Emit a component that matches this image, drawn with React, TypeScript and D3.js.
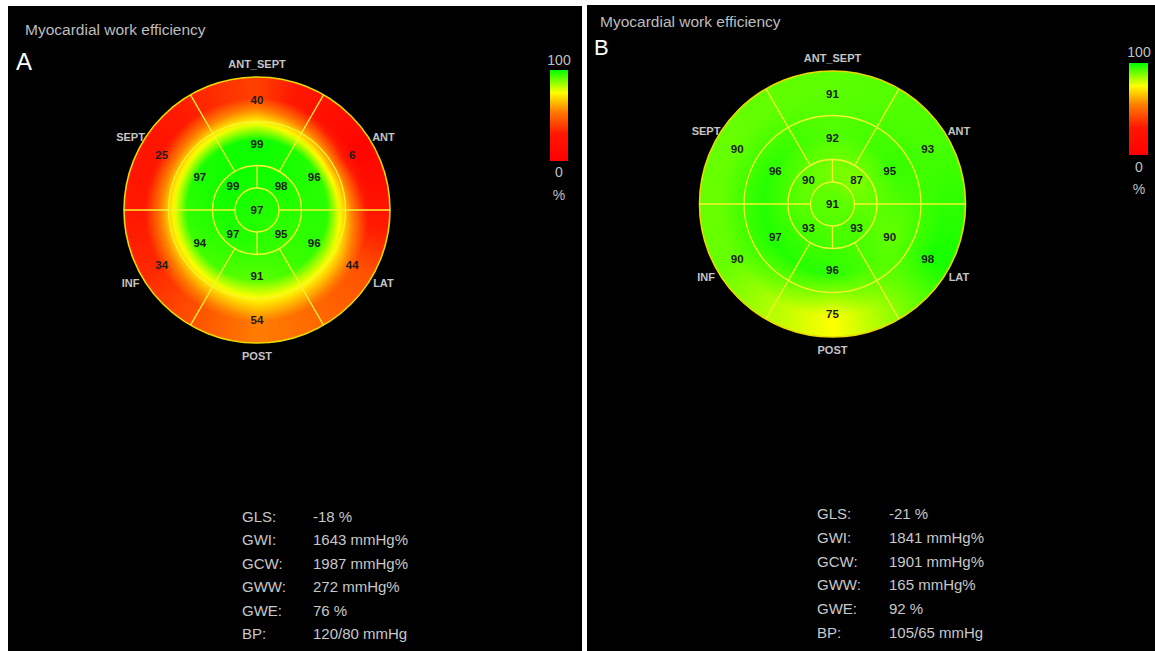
import React from "react";
import * as d3 from "d3";

// ---------- data ----------
const segmentNames = ["ANT_SEPT", "ANT", "LAT", "POST", "INF", "SEPT"];
const basalA = [40, 6, 44, 54, 34, 25];
const midA = [99, 96, 96, 91, 94, 97];
const apicalA = [98, 95, 97, 99];
const apexA = 97;
const basalB = [91, 93, 98, 75, 90, 90];
const midB = [92, 95, 90, 96, 97, 96];
const apicalB = [87, 93, 93, 90];
const apexB = 91;
const statLabels = ["GLS:", "GWI:", "GCW:", "GWW:", "GWE:", "BP:"];
const statsA = ["-18 %", "1643 mmHg%", "1987 mmHg%", "272 mmHg%", "76 %", "120/80 mmHg"];
const statsB = ["-21 %", "1841 mmHg%", "1901 mmHg%", "165 mmHg%", "92 %", "105/65 mmHg"];
const colorStops = [0, 30, 55, 75, 100];
const colorRange = ["#ff0000", "#ff1800", "#ff8000", "#ffff00", "#00ff00"];
const barTicks = ["100", "0", "%"];
const chartTitle = "Myocardial work efficiency";

const color = d3
  .scaleLinear<string>()
  .domain(colorStops)
  .range(colorRange)
  .interpolate(d3.interpolateRgb)
  .clamp(true);

const FONT = "'Liberation Sans', Arial, sans-serif";

// ring radii (apex, apical, mid, basal outer)
const R_APEX = 22;
const R_APICAL = 44.5;
const R_MID = 88.5;
const R_BASAL = 133;
// radius where each ring's value sits (for interpolation)
const rKnots = [0, 33, 70, 112];

function angInterp(vals: number[], offsetDeg: number, thetaDeg: number) {
  const n = vals.length;
  const step = 360 / n;
  const t = ((((thetaDeg - offsetDeg) % 360) + 360) % 360) / step;
  const i0 = Math.floor(t) % n;
  const i1 = (i0 + 1) % n;
  const f = t - Math.floor(t);
  return vals[i0] * (1 - f) + vals[i1] * f;
}

type PanelCfg = {
  id: string;
  letter: string;
  basal: number[];
  mid: number[];
  apical: number[];
  apex: number;
  stats: string[];
  bg: [number, number, number, number];
  cx: number;
  cy: number;
  title: [number, number];
  letterPos: [number, number, number];
  bar: [number, number, number, number];
  barLabelX: number;
  barLabelY: [number, number, number];
  statX: [number, number];
  statY0: number;
  statStep: number;
};

const panels: PanelCfg[] = [
  {
    id: "A",
    letter: "A",
    basal: basalA,
    mid: midA,
    apical: apicalA,
    apex: apexA,
    stats: statsA,
    bg: [8, 6, 574, 645],
    cx: 257,
    cy: 210,
    title: [25, 35],
    letterPos: [16, 70, 24],
    bar: [550, 70, 18, 91],
    barLabelX: 559,
    barLabelY: [65, 177, 200],
    statX: [242, 313],
    statY0: 522,
    statStep: 23.4,
  },
  {
    id: "B",
    letter: "B",
    basal: basalB,
    mid: midB,
    apical: apicalB,
    apex: apexB,
    stats: statsB,
    bg: [587, 5, 568, 646],
    cx: 832.5,
    cy: 204,
    title: [600, 27],
    letterPos: [594, 55, 22],
    bar: [1129, 63, 19, 92],
    barLabelX: 1139,
    barLabelY: [57, 172, 194],
    statX: [817, 889],
    statY0: 519,
    statStep: 23.8,
  },
];

function Bullseye({ p }: { p: PanelCfg }) {
  const rad = Math.PI / 180;
  const wedgeStep = 2;
  const thetas = d3.range(0, 360, wedgeStep);
  const rSamples = d3.range(0, R_BASAL + 0.1, 3.5).concat([R_BASAL]);
  const radial = (theta: number) => {
    const vals = [
      p.apex,
      angInterp(p.apical, 45, theta),
      angInterp(p.mid, 0, theta),
      angInterp(p.basal, 0, theta),
    ];
    return d3.scaleLinear().domain(rKnots).range(vals).clamp(true);
  };
  const arc = d3.arc<any>();
  const pt = (r: number, deg: number): [number, number] => [
    p.cx + r * Math.sin(deg * rad),
    p.cy - r * Math.cos(deg * rad),
  ];
  const lineStroke = "#f4f430";
  const boundaries6 = [30, 150, 210, 330];
  const boundariesH = [90, 270];
  const boundariesV = [0, 180];
  const meanBasal = d3.mean(p.basal) as number;

  return (
    <g>
      <defs>
        {thetas.map((t) => {
          const f = radial(t + wedgeStep / 2);
          return (
            <radialGradient
              key={t}
              id={`g${p.id}${t}`}
              gradientUnits="userSpaceOnUse"
              cx={0}
              cy={0}
              r={R_BASAL}
            >
              {rSamples.map((r) => (
                <stop key={r} offset={r / R_BASAL} stopColor={color(f(r))} />
              ))}
            </radialGradient>
          );
        })}
      </defs>
      {/* labels (drawn under the disk) */}
      {segmentNames.map((n, i) => {
        const [x, y] = pt(146, i * 60);
        return (
          <text
            key={n}
            x={x}
            y={y}
            textAnchor="middle"
            dominantBaseline="central"
            fontFamily={FONT}
            fontWeight="bold"
            fontSize={11}
            fill="#c4c4c4"
          >
            {n}
          </text>
        );
      })}
      {/* under-layers to hide anti-aliasing seams */}
      <circle cx={p.cx} cy={p.cy} r={R_BASAL - 0.5} fill={color(meanBasal)} />
      <circle cx={p.cx} cy={p.cy} r={R_APICAL} fill={color(p.apex)} />
      <g transform={`translate(${p.cx},${p.cy})`}>
        {thetas.map((t) => (
          <path
            key={t}
            d={
              arc({
                innerRadius: 0,
                outerRadius: R_BASAL,
                startAngle: (t - 0.5) * rad,
                endAngle: (t + wedgeStep + 0.5) * rad,
              }) as string
            }
            fill={`url(#g${p.id}${t})`}
          />
        ))}
      </g>
      <circle cx={p.cx} cy={p.cy} r={12} fill={color(p.apex)} />
      {/* rings */}
      {[R_APEX, R_APICAL, R_MID].map((r) => (
        <circle key={r} cx={p.cx} cy={p.cy} r={r} fill="none" stroke={lineStroke} strokeWidth={1.3} />
      ))}
      <circle cx={p.cx} cy={p.cy} r={R_BASAL} fill="none" stroke="#e8d800" strokeWidth={1.6} />
      {boundaries6.map((a) => {
        const [x1, y1] = pt(R_APICAL, a);
        const [x2, y2] = pt(R_BASAL, a);
        return <line key={a} x1={x1} y1={y1} x2={x2} y2={y2} stroke={lineStroke} strokeWidth={1.3} />;
      })}
      {boundariesH.map((a) => {
        const [x1, y1] = pt(R_APEX, a);
        const [x2, y2] = pt(R_BASAL, a);
        return <line key={a} x1={x1} y1={y1} x2={x2} y2={y2} stroke={lineStroke} strokeWidth={1.3} />;
      })}
      {boundariesV.map((a) => {
        const [x1, y1] = pt(R_APEX, a);
        const [x2, y2] = pt(R_APICAL, a);
        return <line key={a} x1={x1} y1={y1} x2={x2} y2={y2} stroke={lineStroke} strokeWidth={1.3} />;
      })}
      {/* values */}
      {[
        ...p.basal.map((v, i) => ({ v, r: 110, a: i * 60 })),
        ...p.mid.map((v, i) => ({ v, r: 66, a: i * 60 })),
        ...p.apical.map((v, i) => ({ v, r: 34, a: 45 + i * 90 })),
        { v: p.apex, r: 0, a: 0 },
      ].map((d, i) => {
        const [x, y] = pt(d.r, d.a);
        return (
          <text
            key={i}
            x={x}
            y={y}
            textAnchor="middle"
            dominantBaseline="central"
            fontFamily={FONT}
            fontWeight="bold"
            fontSize={11.5}
            fill="#1c1c1c"
          >
            {d.v}
          </text>
        );
      })}
    </g>
  );
}

function Panel({ p }: { p: PanelCfg }) {
  const [bx, by, bw, bh] = p.bar;
  const barStops = colorStops.map((v, i) => ({ v, c: colorRange[i] })).reverse();
  return (
    <g>
      <rect x={p.bg[0]} y={p.bg[1]} width={p.bg[2]} height={p.bg[3]} fill="#000" />
      <text x={p.title[0]} y={p.title[1]} fontFamily={FONT} fontSize={15.5} fill="#bdbdbd">
        {chartTitle}
      </text>
      <text
        x={p.letterPos[0]}
        y={p.letterPos[1]}
        fontFamily={FONT}
        fontSize={p.letterPos[2]}
        fill="#ffffff"
      >
        {p.letter}
      </text>
      <Bullseye p={p} />
      <defs>
        <linearGradient id={`bar${p.id}`} x1="0" y1="0" x2="0" y2="1">
          {barStops.map((s) => (
            <stop key={s.v} offset={1 - s.v / 100} stopColor={s.c} />
          ))}
        </linearGradient>
      </defs>
      <rect x={bx} y={by} width={bw} height={bh} fill={`url(#bar${p.id})`} />
      {barTicks.map((t, i) => (
        <text
          key={t}
          x={p.barLabelX}
          y={p.barLabelY[i]}
          textAnchor="middle"
          fontFamily={FONT}
          fontSize={14}
          fill="#c0c0c0"
        >
          {t}
        </text>
      ))}
      {statLabels.map((l, i) => (
        <g key={l}>
          <text x={p.statX[0]} y={p.statY0 + i * p.statStep} fontFamily={FONT} fontSize={15} fill="#c8c8c8">
            {l}
          </text>
          <text x={p.statX[1]} y={p.statY0 + i * p.statStep} fontFamily={FONT} fontSize={15} fill="#c8c8c8">
            {p.stats[i]}
          </text>
        </g>
      ))}
    </g>
  );
}

export default function App() {
  return (
    <svg
      width={1155}
      height={651}
      style={{ position: "absolute", left: 0, top: 0, background: "#fff" }}
    >
      <rect x={0} y={0} width={1155} height={651} fill="#ffffff" />
      {panels.map((p) => (
        <Panel key={p.id} p={p} />
      ))}
    </svg>
  );
}
